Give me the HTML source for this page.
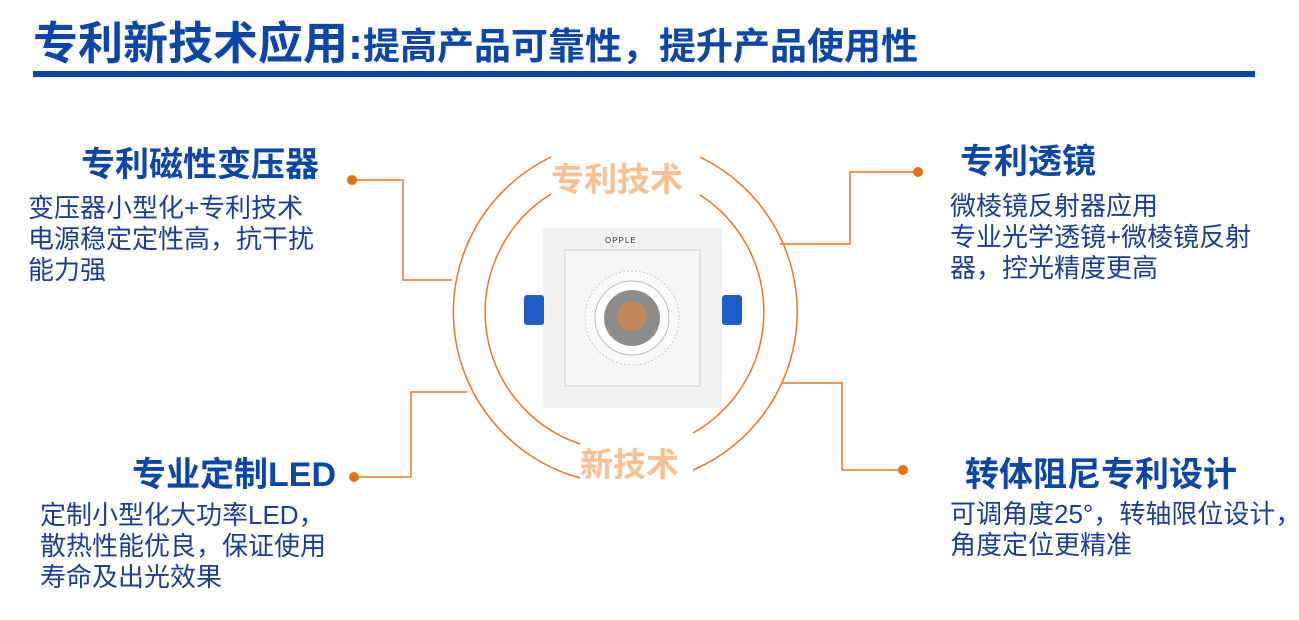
<!DOCTYPE html>
<html><head><meta charset="utf-8"><style>
body{margin:0;width:1299px;height:620px;background:#fff;position:relative;overflow:hidden;font-family:"Liberation Sans","Noto Sans CJK SC",sans-serif}
.a{position:absolute;white-space:nowrap}
.h{color:#0c47a8;font-weight:bold;font-size:34px;line-height:40px}
.b{color:#1b3f93;font-size:26px;line-height:31px}
</style></head><body>
<div class="a" style="left:33px;top:17px;color:#0c47a8;font-weight:bold;line-height:54px"><span style="font-size:45px">专利新技术应用:</span><span style="font-size:37px">提高产品可靠性，提升产品使用性</span></div>
<div class="a" style="left:33px;top:71px;width:1222px;height:6px;background:#0c47a8"></div>

<svg class="a" style="left:0;top:0" width="1299" height="620">
<g fill="none" stroke="#e87722" stroke-width="1.5">
<path d="M551 157 A172 172 0 0 0 580 478"/>
<path d="M700 157 A172 172 0 0 1 693 470"/>
<path d="M551 194 A139 139 0 0 0 580 444"/>
<path d="M700 195 A139 139 0 0 1 693 433"/>
<path d="M352 180 H403 V280 H452"/>
<path d="M352 477 H411 V392 H467"/>
<path d="M918 172 H850 V244 H780"/>
<path d="M903 470 H842 V383 H781"/>
</g>
<g fill="#e8700f"><circle cx="352" cy="180" r="5"/><circle cx="354" cy="477" r="5"/><circle cx="918" cy="172" r="5"/><circle cx="903" cy="470" r="5"/></g>
<rect x="543" y="228" width="179" height="180" fill="#f1f1f1"/>
<rect x="565" y="250" width="135" height="136" fill="#f7f7f7" stroke="#e2e2e2" stroke-width="2"/>
<text x="605" y="243" font-size="8" font-family="Liberation Sans" fill="#333" letter-spacing="1">OPPLE</text>
<circle cx="632" cy="318" r="47" fill="#fafafa" stroke="#ccc" stroke-dasharray="2 2"/>
<circle cx="632" cy="318" r="37" fill="#fff" stroke="#bbb"/>
<circle cx="632" cy="318" r="28" fill="#8d8d8d"/>
<circle cx="632" cy="316" r="15" fill="#c08a5a"/>
<rect x="524" y="295" width="20" height="30" fill="#1f5cc8" rx="3"/>
<rect x="722" y="295" width="20" height="30" fill="#1f5cc8" rx="3"/>
<text x="551" y="191" font-size="33" font-weight="bold" fill="#f8c090" font-family="Liberation Sans,Noto Sans CJK SC,sans-serif">专利技术</text>
<text x="580" y="476" font-size="33" font-weight="bold" fill="#f8c090" font-family="Liberation Sans,Noto Sans CJK SC,sans-serif">新技术</text>
</svg>

<div class="a h" style="left:81px;top:145px">专利磁性变压器</div>
<div class="a b" style="left:28px;top:193px">变压器小型化+专利技术<br>电源稳定定性高，抗干扰<br>能力强</div>
<div class="a h" style="left:132px;top:455px">专业定制LED</div>
<div class="a b" style="left:40px;top:500px">定制小型化大功率LED，<br>散热性能优良，保证使用<br>寿命及出光效果</div>
<div class="a h" style="left:960px;top:142px">专利透镜</div>
<div class="a b" style="left:950px;top:191px">微棱镜反射器应用<br>专业光学透镜+微棱镜反射<br>器，控光精度更高</div>
<div class="a h" style="left:965px;top:455px">转体阻尼专利设计</div>
<div class="a b" style="left:950px;top:499px">可调角度25°，转轴限位设计，<br>角度定位更精准</div>
</body></html>
